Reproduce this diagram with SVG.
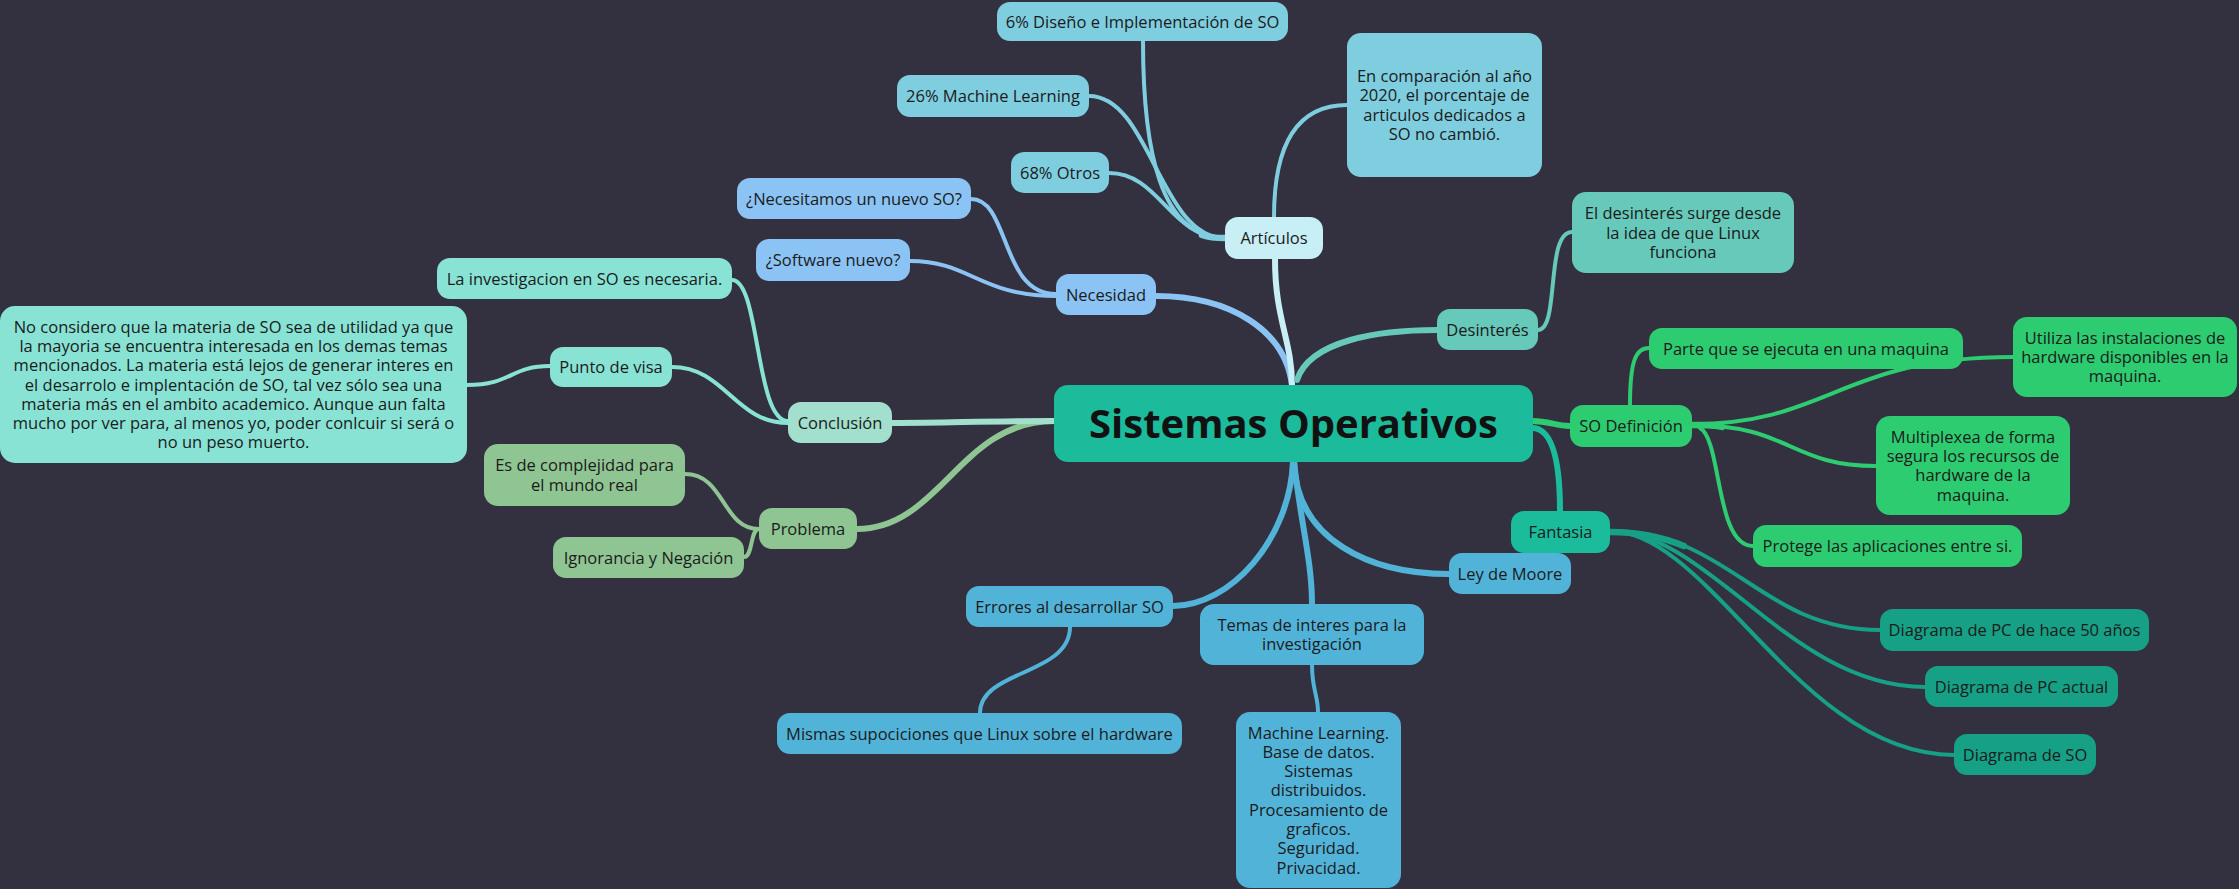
<svg xmlns="http://www.w3.org/2000/svg" width="2239" height="889" viewBox="0 0 2239 889">
<style>
text{font-family:"Open Sans","Noto Sans","Liberation Sans",sans-serif;font-size:16.5px;fill:#1b1b1b;text-anchor:middle}
.root text{font-size:40px;font-weight:bold;fill:#111}
path{fill:none;stroke-linecap:round}
.m{stroke-width:6}
.s{stroke-width:4}
.t{stroke-width:6.5}
.art{fill:#7fcee0}.artn{fill:#c8eff6}
.nec{fill:#8bc4f4}
.con{fill:#88e3d5}.conn{fill:#a2dfcc}
.pro{fill:#8fc593}
.blu{fill:#52b3d9}
.def{fill:#2ecc71}
.fan{fill:#1abc9c}.fanl{fill:#16a085}
.des{fill:#66c9ba}
</style>
<rect width="2239" height="889" fill="#33303f"/>
<g id="connectors">
<path class="m" stroke="#8bc4f4" d="M1156,296 C1230,296 1285,330 1292,385"/>
<path class="m" stroke="#c8eff6" d="M1275,259 C1275,320 1292,340 1292,385"/>
<path class="m" stroke="#66c9ba" d="M1297,380 C1310,340 1380,330 1437,330"/>
<path class="m" stroke="#2ecc71" d="M1532,421 C1550,421 1555,426 1570,426"/>
<path class="m" stroke="#1abc9c" d="M1532,428 C1555,428 1560,470 1560,511"/>
<path class="m" stroke="#52b3d9" d="M1294,461 C1296,540 1370,574 1449,574"/>
<path class="m" stroke="#52b3d9" d="M1294,461 C1300,520 1312,560 1312,604"/>
<path class="m" stroke="#52b3d9" d="M1293,461 C1290,540 1230,606 1173,606"/>
<path class="m" stroke="#8fc593" d="M1054,421 C960,421 940,529 857,529"/>
<path class="m" stroke="#a2dfcc" d="M1054,421 C980,421 950,423 892,423"/>
<path class="s" stroke="#8bc4f4" d="M1056,294 C1000,294 1010,199 971,199"/>
<path class="s" stroke="#8bc4f4" d="M1056,296 C980,296 970,261 910,261"/>
<path class="s" stroke="#7fcee0" d="M1225,238 C1160,238 1143,150 1143,41"/>
<path class="s" stroke="#7fcee0" d="M1225,238 C1160,238 1150,96 1089,96"/>
<path class="s" stroke="#7fcee0" d="M1225,238 C1170,238 1160,173 1109,173"/>
<path class="t" stroke="#7fcee0" d="M1225,238 C1215,238 1208,237 1202,235"/>
<path class="s" stroke="#7fcee0" d="M1274,217 C1274,140 1300,105 1347,105"/>
<path class="s" stroke="#66c9ba" d="M1538,330 C1560,330 1545,232 1572,232"/>
<path class="s" stroke="#2ecc71" d="M1630,405 C1630,360 1636,348 1649,348"/>
<path class="s" stroke="#2ecc71" d="M1692,424 C1830,424 1840,357 2013,357"/>
<path class="s" stroke="#2ecc71" d="M1692,425 C1790,425 1790,466 1876,466"/>
<path class="s" stroke="#2ecc71" d="M1700,428 C1722,440 1715,546 1753,546"/>
<path class="t" stroke="#2ecc71" d="M1692,425 C1705,425 1715,425 1722,427"/>
<path class="s" stroke="#16a085" d="M1610,531 C1730,531 1760,630 1880,630"/>
<path class="s" stroke="#16a085" d="M1610,531 C1710,531 1790,687 1925,687"/>
<path class="s" stroke="#16a085" d="M1610,531 C1710,531 1800,755 1954,755"/>
<path class="t" stroke="#16a085" d="M1610,532 C1640,532 1662,537 1684,546"/>
<path class="s" stroke="#52b3d9" d="M1070,627 C1070,675 980,670 980,713"/>
<path class="s" stroke="#52b3d9" d="M1312,665 C1312,690 1318,695 1318,712"/>
<path class="s" stroke="#88e3d5" d="M732,280 C760,280 755,421 788,421"/>
<path class="s" stroke="#88e3d5" d="M672,367 C725,367 735,423 788,423"/>
<path class="s" stroke="#88e3d5" d="M467,385 C512,385 510,366 550,366"/>
<path class="s" stroke="#8fc593" d="M685,474 C725,474 722,529 759,529"/>
<path class="s" stroke="#8fc593" d="M744,557 C753,557 750,529 759,529"/>
</g>

<g id="root" class="root"><rect x="1054" y="385" width="479" height="77" rx="14" fill="#1cbb9b"/><text x="1293.5" y="437.5">Sistemas Operativos</text></g>

<g id="n-d6"><rect class="art" x="997" y="2" width="291" height="39" rx="13"/><text x="1142.5" y="27.5">6% Diseño e Implementación de SO</text></g>
<g id="n-ml26"><rect class="art" x="897" y="75" width="192" height="42" rx="13"/><text x="993" y="102">26% Machine Learning</text></g>
<g id="n-otros"><rect class="art" x="1011" y="152" width="98" height="41" rx="13"/><text x="1060" y="178.5">68% Otros</text></g>
<g id="n-articulos"><rect class="artn" x="1225" y="217" width="98" height="42" rx="13"/><text x="1274" y="244">Artículos</text></g>
<g id="n-comparacion"><rect class="art" x="1347" y="33" width="195" height="144" rx="14"/><text x="1444.5" y="82">En comparación al año</text><text x="1444.5" y="101.3">2020, el porcentaje de</text><text x="1444.5" y="120.6">articulos dedicados a</text><text x="1444.5" y="139.9">SO no cambió.</text></g>

<g id="n-necesitamos"><rect class="nec" x="737" y="178" width="234" height="41" rx="13"/><text x="854" y="204.5">¿Necesitamos un nuevo SO?</text></g>
<g id="n-software"><rect class="nec" x="756" y="239" width="154" height="42" rx="13"/><text x="833" y="266">¿Software nuevo?</text></g>
<g id="n-necesidad"><rect class="nec" x="1056" y="274" width="100" height="41" rx="13"/><text x="1106" y="300.5">Necesidad</text></g>

<g id="n-desinteres"><rect class="des" x="1437" y="309" width="101" height="41" rx="13"/><text x="1487.5" y="335.5">Desinterés</text></g>
<g id="n-eldesinteres"><rect class="des" x="1572" y="192" width="222" height="81" rx="14"/><text x="1683" y="219.2">El desinterés surge desde</text><text x="1683" y="238.5">la idea de que Linux</text><text x="1683" y="257.8">funciona</text></g>

<g id="n-sodef"><rect class="def" x="1570" y="405" width="122" height="42" rx="13"/><text x="1631" y="432">SO Definición</text></g>
<g id="n-parte"><rect class="def" x="1649" y="328" width="314" height="41" rx="13"/><text x="1806" y="354.5">Parte que se ejecuta en una maquina</text></g>
<g id="n-utiliza"><rect class="def" x="2013" y="317" width="224" height="80" rx="14"/><text x="2125" y="343.7">Utiliza las instalaciones de</text><text x="2125" y="363">hardware disponibles en la</text><text x="2125" y="382.3">maquina.</text></g>
<g id="n-multiplexea"><rect class="def" x="1876" y="416" width="194" height="99" rx="14"/><text x="1973" y="442.6">Multiplexea de forma</text><text x="1973" y="461.9">segura los recursos de</text><text x="1973" y="481.2">hardware de la</text><text x="1973" y="500.5">maquina.</text></g>
<g id="n-protege"><rect class="def" x="1753" y="525" width="269" height="42" rx="13"/><text x="1887.5" y="552">Protege las aplicaciones entre si.</text></g>

<g id="n-fantasia"><rect class="fan" x="1511" y="511" width="99" height="42" rx="13"/><text x="1560.5" y="538">Fantasia</text></g>
<g id="n-d50"><rect class="fanl" x="1880" y="609" width="269" height="42" rx="13"/><text x="2014.5" y="636">Diagrama de PC de hace 50 años</text></g>
<g id="n-pcactual"><rect class="fanl" x="1925" y="666" width="193" height="41" rx="13"/><text x="2021.5" y="692.5">Diagrama de PC actual</text></g>
<g id="n-dso"><rect class="fanl" x="1954" y="734" width="142" height="41" rx="13"/><text x="2025" y="760.5">Diagrama de SO</text></g>

<g id="n-moore"><rect class="blu" x="1449" y="553" width="122" height="41" rx="13"/><text x="1510" y="579.5">Ley de Moore</text></g>
<g id="n-errores"><rect class="blu" x="966" y="586" width="207" height="41" rx="13"/><text x="1069.5" y="612.5">Errores al desarrollar SO</text></g>
<g id="n-mismas"><rect class="blu" x="777" y="713" width="405" height="41" rx="13"/><text x="979.5" y="739.5">Mismas supociciones que Linux sobre el hardware</text></g>
<g id="n-temas"><rect class="blu" x="1200" y="604" width="224" height="61" rx="14"/><text x="1312" y="630.9">Temas de interes para la</text><text x="1312" y="650.2">investigación</text></g>
<g id="n-machine"><rect class="blu" x="1236" y="712" width="165" height="176" rx="14"/><text x="1318.5" y="738.5">Machine Learning.</text><text x="1318.5" y="757.8">Base de datos.</text><text x="1318.5" y="777.1">Sistemas</text><text x="1318.5" y="796.4">distribuidos.</text><text x="1318.5" y="815.7">Procesamiento de</text><text x="1318.5" y="835">graficos.</text><text x="1318.5" y="854.3">Seguridad.</text><text x="1318.5" y="873.6">Privacidad.</text></g>

<g id="n-problema"><rect class="pro" x="759" y="508" width="98" height="41" rx="13"/><text x="808" y="534.5">Problema</text></g>
<g id="n-complejidad"><rect class="pro" x="484" y="444" width="201" height="62" rx="14"/><text x="584.5" y="471.4">Es de complejidad para</text><text x="584.5" y="490.7">el mundo real</text></g>
<g id="n-ignorancia"><rect class="pro" x="553" y="537" width="191" height="41" rx="13"/><text x="648.5" y="563.5">Ignorancia y Negación</text></g>

<g id="n-conclusion"><rect class="conn" x="788" y="402" width="104" height="41" rx="13"/><text x="840" y="428.5">Conclusión</text></g>
<g id="n-investigacion"><rect class="con" x="437" y="258" width="295" height="41" rx="13"/><text x="584.5" y="284.5">La investigacion en SO es necesaria.</text></g>
<g id="n-punto"><rect class="con" x="550" y="347" width="122" height="40" rx="13"/><text x="611" y="373">Punto de visa</text></g>
<g id="n-opinion"><rect class="con" x="0" y="306" width="467" height="157" rx="15"/><text x="233.5" y="332.6">No considero que la materia de SO sea de utilidad ya que</text><text x="233.5" y="351.9">la mayoria se encuentra interesada en los demas temas</text><text x="233.5" y="371.2">mencionados. La materia está lejos de generar interes en</text><text x="233.5" y="390.5">el desarrolo e implentación de SO, tal vez sólo sea una</text><text x="233.5" y="409.8">materia más en el ambito academico. Aunque aun falta</text><text x="233.5" y="429.1">mucho por ver para, al menos yo, poder conlcuir si será o</text><text x="233.5" y="448.4">no un peso muerto.</text></g>
</svg>
